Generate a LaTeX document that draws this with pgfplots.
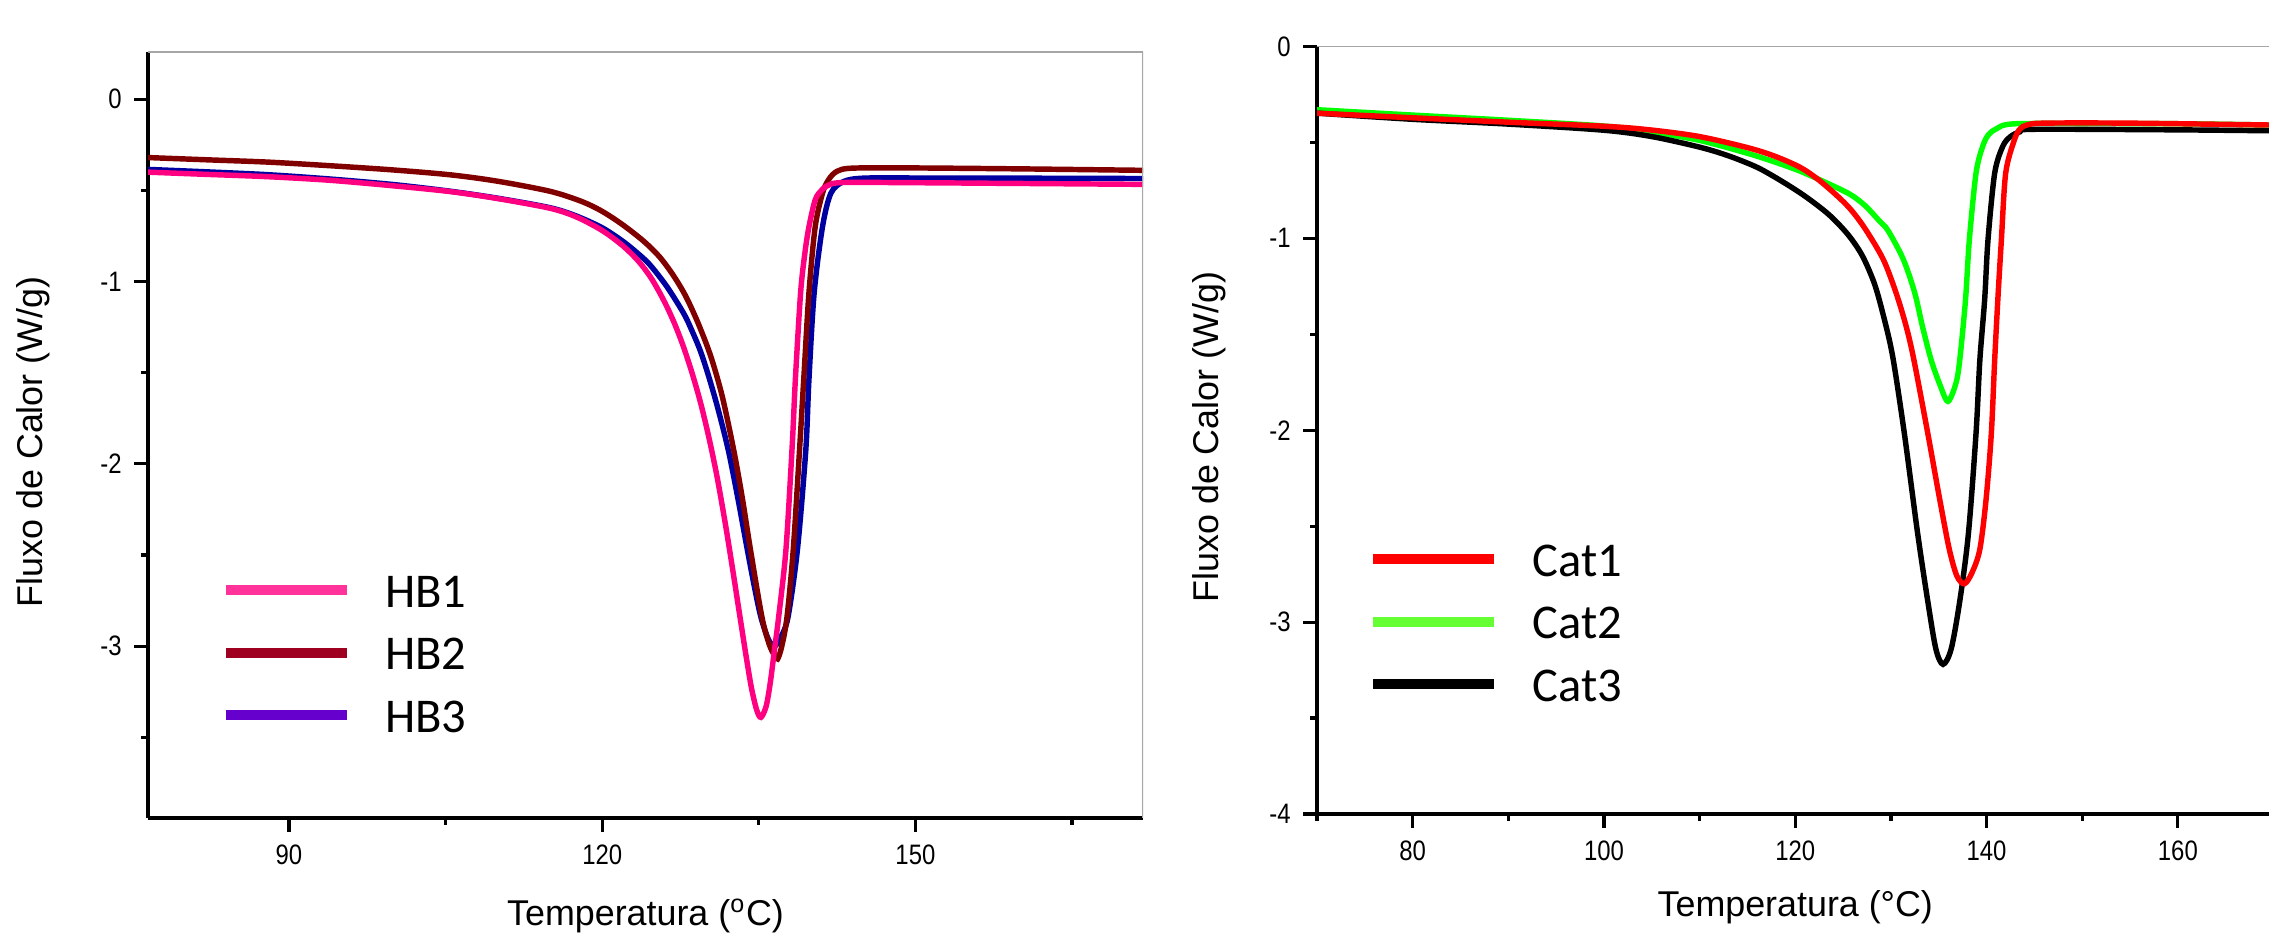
\documentclass[border=0pt]{standalone}
\usepackage{fontspec}
\setmainfont{Liberation Sans}
\newfontfamily\calibri{Carlito}
\newfontfamily\narrow[FakeStretch=0.85]{Liberation Sans}
\usepackage{pgfplots}
\pgfplotsset{compat=1.18}

% curve colours and the (slightly different) legend swatches
\definecolor{hbone}{HTML}{FF0080}
\definecolor{hbtwo}{HTML}{800000}
\definecolor{hbthree}{HTML}{0000A0}
\definecolor{hbonel}{HTML}{FF3399}
\definecolor{hbtwol}{HTML}{A00020}
\definecolor{hbthreel}{HTML}{6600CC}
\definecolor{catone}{HTML}{FF0000}
\definecolor{cattwo}{HTML}{00FF00}
\definecolor{cattwol}{HTML}{66FF33}

\pgfplotsset{
  dsc/.style={
    scale only axis,
    axis lines*=left,
    axis line style={line width=1.1pt},
    tick align=outside,
    major tick length=0.14cm,
    minor tick length=0.07cm,
    tick style={black, line width=0.9pt},
    /pgf/number format/assume math mode=true,
    ticklabel style={font=\narrow\fontsize{8}{9.6}\selectfont},
    label style={font=\fontsize{10.2}{12}\selectfont},
    legend image code/.code={\draw[#1] (0cm,0.02cm) -- (1.21cm,0.02cm);},
    legend cell align=left,
    legend style={draw=none, fill=none, inner sep=0pt, row sep=0.325cm,
      font=\calibri\fontsize{13.8}{16}\selectfont,
      nodes={inner sep=0pt, text height=0.3cm, text depth=0cm},
      /tikz/every odd column/.append style={column sep=0.33cm}},
    every axis plot/.append style={line width=1.55pt, smooth, tension=0.5},
  }
}

\pgfplotstableread{
T v
76.5 -0.400
82 -0.412
88 -0.425
94 -0.445
100 -0.475
105.5 -0.507
110 -0.545
115 -0.598
117.5 -0.645
120 -0.720
122 -0.805
123.5 -0.890
124.6 -0.973
125.4 -1.050
126.2 -1.138
127.0 -1.240
127.8 -1.360
128.6 -1.500
129.4 -1.660
130.2 -1.850
131.0 -2.070
131.8 -2.330
132.5 -2.580
133.2 -2.840
133.8 -3.060
134.3 -3.230
134.8 -3.350
135.2 -3.390
135.7 -3.330
136.1 -3.200
136.5 -3.020
136.9 -2.840
137.6 -2.470
138.2 -1.900
138.5 -1.540
139.0 -1.064
139.4 -0.850
139.8 -0.700
140.4 -0.552
141.0 -0.500
141.55 -0.475
143 -0.457
150 -0.458
160 -0.462
171.8 -0.467
}\hbone

\pgfplotstableread{
T v
76.5 -0.320
82 -0.332
88 -0.345
94 -0.365
100 -0.388
105.5 -0.415
110 -0.450
115 -0.505
118 -0.560
120 -0.615
122 -0.690
124 -0.780
125.5 -0.865
126.8 -0.965
128 -1.080
129.2 -1.230
130.4 -1.410
131.5 -1.630
132.6 -1.925
133.4 -2.180
134.2 -2.470
135.3 -2.840
136.0 -2.990
136.5 -3.050
136.8 -3.070
137.2 -3.000
137.7 -2.840
138.3 -2.470
138.9 -1.925
139.3 -1.540
139.8 -1.064
140.4 -0.700
141.1 -0.516
141.7 -0.440
142.5 -0.395
144 -0.378
150 -0.377
160 -0.382
171.8 -0.390
}\hbtwo

\pgfplotstableread{
T v
76.5 -0.385
82 -0.398
88 -0.414
94 -0.438
100 -0.468
105.5 -0.505
110 -0.543
115 -0.595
117.5 -0.640
120 -0.705
122 -0.780
123.5 -0.850
124.6 -0.910
126.2 -1.028
127.8 -1.174
128.6 -1.270
129.4 -1.380
130.2 -1.520
131.1 -1.700
132.1 -1.930
133.0 -2.190
133.9 -2.470
134.6 -2.680
135.2 -2.840
135.9 -2.960
136.5 -3.000
137.1 -2.950
137.8 -2.840
138.7 -2.470
139.5 -1.925
139.8 -1.540
140.3 -1.064
141.1 -0.700
141.9 -0.516
143.1 -0.452
145 -0.433
150 -0.432
160 -0.433
171.8 -0.435
}\hbthree

\pgfplotstableread{
T v
70 -0.348
80 -0.372
90 -0.395
100 -0.416
104.8 -0.435
110 -0.470
115.2 -0.530
118 -0.575
120.5 -0.630
122.3 -0.690
124.3 -0.775
125.8 -0.850
127.3 -0.950
129.2 -1.110
130.55 -1.286
131.6 -1.460
132.4 -1.633
133.85 -2.015
135.1 -2.360
136.1 -2.620
136.9 -2.760
137.7 -2.800
138.5 -2.740
139.3 -2.620
139.95 -2.360
140.5 -2.015
140.85 -1.633
141.2 -1.300
141.55 -1.008
142.0 -0.660
142.9 -0.488
143.5 -0.430
144.2 -0.410
146 -0.400
155 -0.400
170 -0.410
}\catone

\pgfplotstableread{
T v
70 -0.330
80 -0.358
90 -0.385
100 -0.415
104.8 -0.445
110 -0.490
115.2 -0.560
118 -0.605
120.5 -0.650
123 -0.705
125.7 -0.770
127.3 -0.830
128.8 -0.910
129.7 -0.960
131.3 -1.110
132.5 -1.286
133.3 -1.460
134.2 -1.633
135.1 -1.760
135.96 -1.850
136.8 -1.755
137.2 -1.633
137.8 -1.320
138.2 -1.008
138.9 -0.660
139.6 -0.520
140.2 -0.460
141.0 -0.430
142.7 -0.404
150 -0.402
160 -0.403
170 -0.410
}\cattwo

\pgfplotstableread{
T v
70 -0.348
80 -0.380
90 -0.405
100 -0.437
105 -0.470
110 -0.525
113 -0.570
116 -0.630
118.5 -0.700
121 -0.780
123.5 -0.876
125.5 -0.980
127 -1.090
128.3 -1.240
129.3 -1.420
130.2 -1.620
131.4 -2.015
132.8 -2.540
133.85 -2.890
134.7 -3.140
135.45 -3.220
136.3 -3.140
137.2 -2.890
138.1 -2.540
138.9 -2.015
139.3 -1.633
139.8 -1.320
140.15 -1.008
140.85 -0.660
141.7 -0.520
142.5 -0.470
143.5 -0.445
145 -0.432
160 -0.435
170 -0.440
}\catthree

\begin{document}
\begin{tikzpicture}
\useasboundingbox (0,0) rectangle (22.69,9.33);

\begin{axis}[dsc,
  at={(1.48cm,1.15cm)}, anchor=south west,
  width=9.95cm, height=7.66cm,
  xmin=76.5, xmax=171.8, ymin=-3.942, ymax=0.259,
  xtick={90,120,150}, minor xtick={105,135,165},
  ytick={-3,-2,-1,0}, minor ytick={-3.5,-2.5,-1.5,-0.5},
  xlabel={Temperatura (\textsuperscript{o}C)},
  ylabel={Fluxo de Calor (W/g)},
  xlabel style={at={(axis description cs:0.5,-0.128)}, anchor=center},
  ylabel style={at={(axis description cs:-0.1156,0.491)}, anchor=center, rotate=0},
  legend style={at={(rel axis cs:0.073,0.315)}, anchor=north west},
]
\addplot[hbthree, forget plot] table[x=T, y=v] {\hbthree};
\addplot[hbtwo, forget plot] table[x=T, y=v] {\hbtwo};
\addplot[hbone, forget plot] table[x=T, y=v] {\hbone};
\addlegendimage{hbonel, line width=0.1cm}
\addlegendentry{HB1}
\addlegendimage{hbtwol, line width=0.1cm}
\addlegendentry{HB2}
\addlegendimage{hbthreel, line width=0.1cm}
\addlegendentry{HB3}
\draw[gray!70, line width=0.6pt] (rel axis cs:0,1) -- (rel axis cs:1,1) -- (rel axis cs:1,0);
\end{axis}

\begin{axis}[dsc,
  at={(13.17cm,1.19cm)}, anchor=south west,
  width=9.565cm, height=7.676cm,
  xmin=70, xmax=170, ymin=-4, ymax=0,
  xtick={80,100,...,160}, minor xtick={70,90,...,170},
  ytick={-4,-3,...,0}, minor ytick={-3.5,-2.5,-1.5,-0.5},
  xlabel={Temperatura (°C)},
  ylabel={Fluxo de Calor (W/g)},
  xlabel style={at={(axis description cs:0.5,-0.121)}, anchor=center},
  ylabel style={at={(axis description cs:-0.1124,0.491)}, anchor=center, rotate=0},
  legend style={at={(rel axis cs:0.053,0.350)}, anchor=north west},
]
\addplot[cattwo, forget plot] table[x=T, y=v] {\cattwo};
\addplot[black, forget plot] table[x=T, y=v] {\catthree};
\addplot[catone, forget plot] table[x=T, y=v] {\catone};
\addlegendimage{catone, line width=0.1cm}
\addlegendentry{Cat1}
\addlegendimage{cattwol, line width=0.1cm}
\addlegendentry{Cat2}
\addlegendimage{black, line width=0.1cm}
\addlegendentry{Cat3}
\draw[gray!70, line width=0.6pt] (rel axis cs:0,1) -- (rel axis cs:1,1);
\end{axis}
\end{tikzpicture}
\end{document}
